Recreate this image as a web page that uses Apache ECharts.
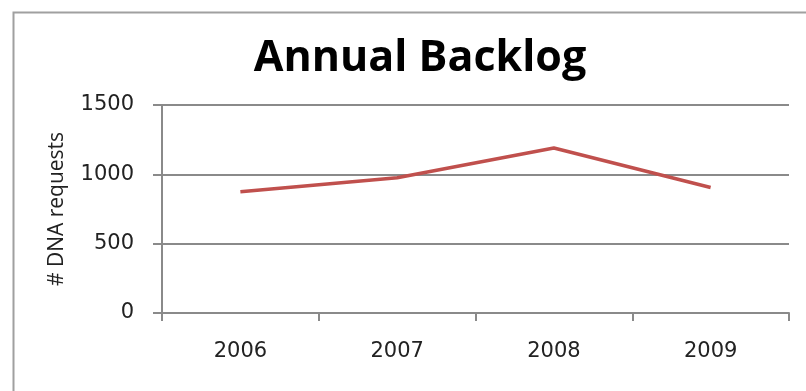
<!DOCTYPE html>
<html>
<head>
<meta charset="utf-8">
<script src="https://cdn.jsdelivr.net/npm/echarts@6/dist/echarts.min.js"></script>
<style>
  html, body { margin: 0; padding: 0; background: #fff; }
  #chart { width: 806px; height: 391px; }
</style>
</head>
<body>
<div id="chart"></div>
<script>
// 数据
var years = ["2006", "2007", "2008", "2009"];
var backlog = [875, 975, 1190, 905];
var yTicks = [0, 500, 1000, 1500];

var chart = echarts.init(document.getElementById("chart"));
chart.setOption({
  animation: false,
  graphic: [
    {
      type: "rect",
      left: 11,
      top: 10,
      shape: { width: 820, height: 400 },
      style: { fill: "none", stroke: "#a0a0a0", lineWidth: 2 }
    }
  ],
  title: {
    text: "Annual Backlog",
    left: 415,
    top: 32,
    textAlign: "center",
    textStyle: {
      fontFamily: "Open Sans",
      fontWeight: "bold",
      fontSize: 43,
      color: "#000"
    }
  },
  grid: {
    left: 162,
    right: 17,
    top: 105,
    bottom: 78
  },
  xAxis: {
    type: "category",
    data: years,
    boundaryGap: true,
    axisLine: { lineStyle: { color: "#8a8a8a", width: 2 } },
    axisTick: { show: true, length: 8, lineStyle: { color: "#8a8a8a", width: 2 } },
    axisLabel: {
      margin: 28,
      fontFamily: "DejaVu Sans",
      fontSize: 21,
      color: "#222"
    }
  },
  yAxis: {
    type: "value",
    min: yTicks[0],
    max: yTicks[yTicks.length - 1],
    interval: 500,
    name: "# DNA requests",
    nameLocation: "middle",
    nameGap: 94,
    nameRotate: 90,
    nameTextStyle: {
      fontFamily: "Open Sans",
      fontSize: 21,
      color: "#222"
    },
    axisLine: { show: true, lineStyle: { color: "#8a8a8a", width: 2 } },
    axisTick: { show: true, inside: false, length: 9, lineStyle: { color: "#8a8a8a", width: 2 } },
    axisLabel: {
      margin: 28,
      fontFamily: "DejaVu Sans",
      fontSize: 21,
      color: "#222",
      formatter: function (v) { return String(v); }
    },
    splitLine: { show: true, lineStyle: { color: "#8a8a8a", width: 2 } }
  },
  series: [
    {
      name: "Backlog",
      type: "line",
      data: backlog,
      symbol: "none",
      lineStyle: { color: "#c0504d", width: 3.5 }
    }
  ]
});
</script>
</body>
</html>
